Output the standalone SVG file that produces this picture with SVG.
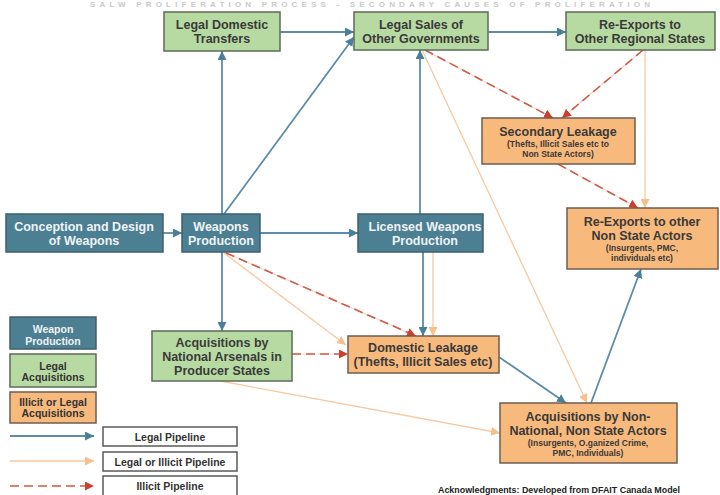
<svg xmlns="http://www.w3.org/2000/svg" width="720" height="495" viewBox="0 0 720 495">
<style>
text{font-family:"Liberation Sans",Arial,sans-serif;font-weight:bold;text-anchor:middle;dominant-baseline:central}
.t{fill:#4d7f92;stroke:#3f5f6c;stroke-width:1.5}
.g{fill:#b7daa2;stroke:#5d6b58;stroke-width:1.5}
.o{fill:#f8b97c;stroke:#6e5e50;stroke-width:1.5}
.w{fill:#ffffff;stroke:#5a5a5a;stroke-width:1.5}
.tt{fill:#eef3f5;font-size:12.5px}
.dt{fill:#3a3a3a;font-size:12.5px}
.sm{fill:#3a3a3a;font-size:8.5px}
.lg{font-size:10.5px}
.lb{fill:none;stroke:#5b8ca8;stroke-width:1.8}
.lo{fill:none;stroke:#f7c9a0;stroke-width:1.3}
.lr{fill:none;stroke:#cf5a45;stroke-width:1.6;stroke-dasharray:9 5}
.lu{fill:none;stroke:#f2d6d0;stroke-width:1.2}
</style>
<defs>
<marker id="ab" viewBox="0 0 10 10" refX="10" refY="5" markerWidth="9" markerHeight="9" markerUnits="userSpaceOnUse" orient="auto"><path d="M0,0 L10,5 L0,10 z" fill="#4a7f99"/></marker>
<marker id="ao" viewBox="0 0 10 10" refX="10" refY="5" markerWidth="9" markerHeight="9" markerUnits="userSpaceOnUse" orient="auto"><path d="M0,0 L10,5 L0,10 z" fill="#f7bf8a"/></marker>
<marker id="ar" viewBox="0 0 10 10" refX="10" refY="5" markerWidth="9" markerHeight="9" markerUnits="userSpaceOnUse" orient="auto"><path d="M0,0 L10,5 L0,10 z" fill="#d23c2c"/></marker>
</defs>
<rect width="720" height="495" fill="#ffffff"/>
<text x="370" y="4.5" style="font-size:8px;fill:#c9c9c9" textLength="560" lengthAdjust="spacing">SALW PROLIFERATION PROCESS - SECONDARY CAUSES OF PROLIFERATION</text>

<g id="connectors">
<path class="lo" d="M224,253 L346,345" marker-end="url(#ao)"/>
<path class="lo" d="M433,252 V336" marker-end="url(#ao)"/>
<path class="lo" d="M422,50 L587,403" marker-end="url(#ao)"/>
<path class="lo" d="M645,50 V208" marker-end="url(#ao)"/>
<path class="lo" d="M220,381 L500,433" marker-end="url(#ao)"/>
<path class="lu" d="M226,253 L416,336"/>
<path class="lu" d="M292,354 H348"/>
<path class="lu" d="M425,50 L553,118"/>
<path class="lu" d="M643,50 L562,118"/>
<path class="lu" d="M558,164 L638,208"/>
<path class="lr" d="M226,253 L416,336" marker-end="url(#ar)"/>
<path class="lr" d="M292,354 H348" marker-end="url(#ar)"/>
<path class="lr" d="M425,50 L553,118" marker-end="url(#ar)"/>
<path class="lr" d="M643,50 L562,118" marker-end="url(#ar)"/>
<path class="lr" d="M558,164 L638,208" marker-end="url(#ar)"/>
<path class="lb" d="M163,233 H182" marker-end="url(#ab)"/>
<path class="lb" d="M222,214 V51" marker-end="url(#ab)"/>
<path class="lb" d="M224,214 L354,37" marker-end="url(#ab)"/>
<path class="lb" d="M280,32 H354" marker-end="url(#ab)"/>
<path class="lb" d="M488,32 H566" marker-end="url(#ab)"/>
<path class="lb" d="M260,233 H358" marker-end="url(#ab)"/>
<path class="lb" d="M420,214 V50" marker-end="url(#ab)"/>
<path class="lb" d="M222,252 V331" marker-end="url(#ab)"/>
<path class="lb" d="M423,252 V336" marker-end="url(#ab)"/>
<path class="lb" d="M499,357 L566,403" marker-end="url(#ab)"/>
<path class="lb" d="M591,403 L641,269" marker-end="url(#ab)"/>
<path class="lb" d="M10,436 H94" marker-end="url(#ab)"/>
<path class="lo" d="M10,461 H94" marker-end="url(#ao)"/>
<path class="lr" d="M10,486 H94" marker-end="url(#ar)"/>
</g>

<g id="legal-domestic-transfers"><rect class="g" x="164" y="12" width="116" height="39"/><text class="dt" x="222" y="25">Legal Domestic</text><text class="dt" x="222" y="39">Transfers</text></g>
<g id="legal-sales"><rect class="g" x="354" y="12" width="134" height="38"/><text class="dt" x="421" y="25">Legal Sales of</text><text class="dt" x="421" y="39">Other Governments</text></g>
<g id="re-exports-regional"><rect class="g" x="566" y="12" width="149" height="38"/><text class="dt" x="640" y="25">Re-Exports to</text><text class="dt" x="640" y="39">Other Regional States</text></g>
<g id="conception"><rect class="t" x="6" y="214" width="157" height="38"/><text class="tt" x="84" y="227">Conception and Design</text><text class="tt" x="84" y="241">of Weapons</text></g>
<g id="weapons-production"><rect class="t" x="182" y="214" width="78" height="38"/><text class="tt" x="221" y="227">Weapons</text><text class="tt" x="221" y="241">Production</text></g>
<g id="licensed-production"><rect class="t" x="358" y="214" width="125" height="38"/><text class="tt" x="425" y="227">Licensed Weapons</text><text class="tt" x="425" y="241">Production</text></g>
<g id="secondary-leakage"><rect class="o" x="482" y="118" width="153" height="46"/><text class="dt" x="558" y="132">Secondary Leakage</text><text class="sm" x="558" y="144">(Thefts, Illicit Sales etc to</text><text class="sm" x="558" y="154">Non State Actors)</text></g>
<g id="re-exports-non-state"><rect class="o" x="567" y="208" width="151" height="61"/><text class="dt" x="642" y="222">Re-Exports to other</text><text class="dt" x="642" y="236">Non State Actors</text><text class="sm" x="642" y="248">(Insurgents, PMC,</text><text class="sm" x="642" y="258">individuals etc)</text></g>
<g id="national-arsenals"><rect class="g" x="152" y="331" width="140" height="50"/><text class="dt" x="222" y="343">Acquisitions by</text><text class="dt" x="222" y="357">National Arsenals in</text><text class="dt" x="222" y="371">Producer States</text></g>
<g id="domestic-leakage"><rect class="o" x="348" y="336" width="151" height="37"/><text class="dt" x="423" y="348">Domestic Leakage</text><text class="dt" x="423" y="362">(Thefts, Illicit Sales etc)</text></g>
<g id="non-state-acquisitions"><rect class="o" x="500" y="403" width="177" height="60"/><text class="dt" x="588" y="417">Acquisitions by Non-</text><text class="dt" x="588" y="431">National, Non State Actors</text><text class="sm" x="588" y="443">(Insurgents, O.ganized Crime,</text><text class="sm" x="588" y="453">PMC, Individuals)</text></g>

<g id="legend">
<rect class="t" x="10" y="317" width="86" height="32"/><text class="lg" x="53" y="329" fill="#eef3f5">Weapon</text><text class="lg" x="53" y="341" fill="#eef3f5">Production</text>
<rect class="g" x="10" y="354" width="86" height="33"/><text class="lg" x="53" y="366" fill="#333">Legal</text><text class="lg" x="53" y="377" fill="#333">Acquisitions</text>
<rect class="o" x="10" y="392" width="86" height="31"/><text class="lg" x="53" y="402" fill="#333">Illicit or Legal</text><text class="lg" x="53" y="413" fill="#333">Acquisitions</text>
<rect class="w" x="103" y="427" width="134" height="19"/><text class="lg" x="170" y="436.5" fill="#333">Legal Pipeline</text>
<rect class="w" x="103" y="452" width="134" height="19"/><text class="lg" x="170" y="461.5" fill="#333">Legal or Illicit Pipeline</text>
<rect class="w" x="103" y="476" width="134" height="21"/><text class="lg" x="170" y="486" fill="#333">Illicit Pipeline</text>
</g>
<text x="559" y="490" style="font-size:9px;fill:#222" textLength="242" lengthAdjust="spacingAndGlyphs">Acknowledgments: Developed from DFAIT Canada Model</text>
</svg>
